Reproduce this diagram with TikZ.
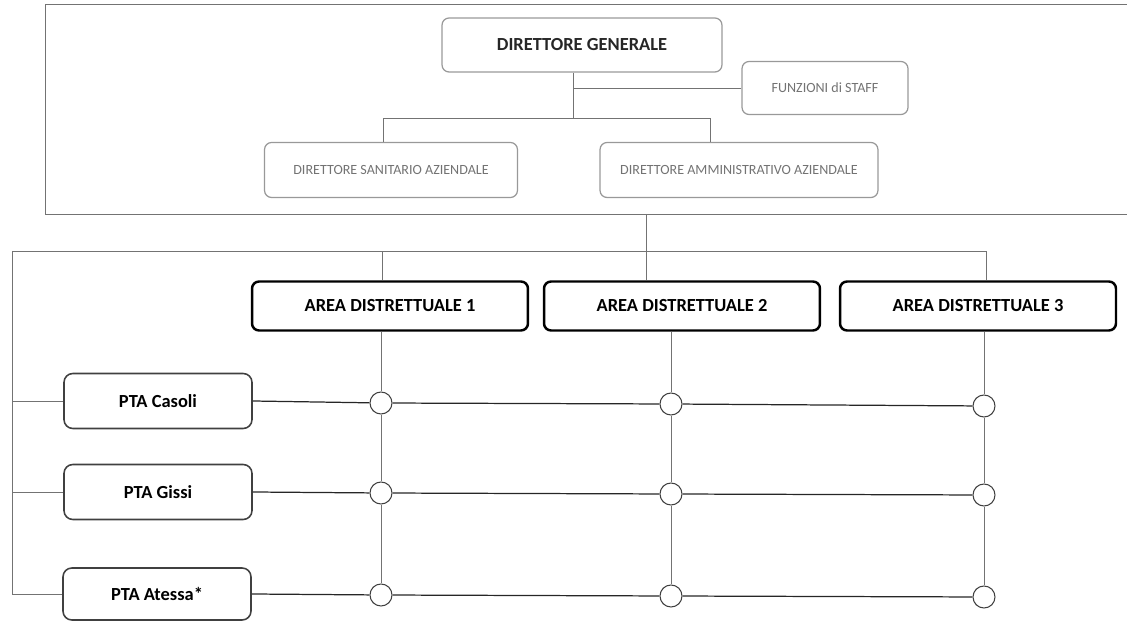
\documentclass[tikz,border=0pt]{standalone}
\usepackage{fontspec}
\setmainfont{Carlito}
\tikzset{
  topbox/.style={draw=black!40, line width=0.7pt, rounded corners=4pt, text=black!55, font=\fontsize{8}{9}\selectfont, align=center},
  headbox/.style={topbox, text=black!85, font=\bfseries\fontsize{10.5}{12}\selectfont},
  areabox/.style={draw=black, line width=1.4pt, rounded corners=4pt, font=\bfseries\fontsize{10.5}{12}\selectfont, minimum width=5.52cm, minimum height=0.98cm},
  ptabox/.style={draw=black!75, line width=0.9pt, rounded corners=5pt, font=\bfseries\fontsize{10.5}{12}\selectfont, minimum width=3.76cm, minimum height=1.1cm},
  knot/.style={circle, draw=black!75, line width=0.6pt, fill=white, minimum size=0.44cm, inner sep=0pt},
  greyline/.style={draw=black!55, line width=0.5pt},
  darkline/.style={draw=black!85, line width=0.7pt}
}

\begin{document}
\begin{tikzpicture}[x=0.02cm, y=-0.02cm]
\useasboundingbox (0,0) rectangle (1127,624);
\draw[greyline] (1127,4) -- (45,4) -- (45,214) -- (1127,214);
\node[headbox, minimum width=5.6cm, minimum height=1.08cm] (dg) at (582,45) {DIRETTORE GENERALE};
\node[topbox, minimum width=3.32cm, minimum height=1.06cm] (staff) at (825,88) {FUNZIONI di STAFF};
\node[topbox, minimum width=5.06cm, minimum height=1.1cm] (dsa) at (391,170) {DIRETTORE SANITARIO AZIENDALE};
\node[topbox, minimum width=5.56cm, minimum height=1.1cm] (daa) at (739,170) {DIRETTORE AMMINISTRATIVO AZIENDALE};
\coordinate (jdg) at (573,118);
\coordinate (jsa) at (383,118);
\coordinate (jaa) at (710,118);
\draw[greyline] (dg.south -| jdg) -- (jdg);
\draw[greyline] (staff.west) -- (staff.west -| jdg);
\draw[greyline] (dsa.north -| jsa) -- (jsa) -- (jaa) -- (daa.north -| jaa);

\node[areabox] (a1) at (390,306) {AREA DISTRETTUALE 1};
\node[areabox] (a2) at (682,306) {AREA DISTRETTUALE 2};
\node[areabox] (a3) at (978,306) {AREA DISTRETTUALE 3};
\coordinate (fb) at (646,214);
\coordinate (bl) at (12,251);
\coordinate (br) at (986,251);
\draw[greyline] (bl) -- (br) -- (a3.north -| br);
\draw[greyline] (fb) -- (a2.north -| fb);
\draw[greyline] (a1.north -| 382,0) -- (382,251);

\node[ptabox] (pta1) at (158,401) {PTA Casoli};
\node[ptabox] (pta2) at (158,492) {PTA Gissi};
\node[ptabox, minimum height=1.04cm] (pta3) at (157,594) {PTA Atessa*};
\draw[greyline] (bl) |- (pta3.west);
\draw[greyline] (pta1.west) -- (pta1.west -| bl);
\draw[greyline] (pta2.west) -- (pta2.west -| bl);

\node[knot] (c11) at (381,403) {};
\node[knot] (c12) at (671,404) {};
\node[knot] (c13) at (984,406) {};
\node[knot] (c21) at (381,493) {};
\node[knot] (c22) at (671,494) {};
\node[knot] (c23) at (984,495) {};
\node[knot] (c31) at (381,595) {};
\node[knot] (c32) at (671,596) {};
\node[knot] (c33) at (984,597) {};
\draw[greyline] (a1.south -| c11) -- (c11) -- (c21) -- (c31);
\draw[greyline] (a2.south -| c12) -- (c12) -- (c22) -- (c32);
\draw[greyline] (a3.south -| c13) -- (c13) -- (c23) -- (c33);
\draw[darkline] (pta1.east) -- (c11) -- (c12) -- (c13);
\draw[darkline] (pta2.east) -- (c21) -- (c22) -- (c23);
\draw[darkline] (pta3.east) -- (c31) -- (c32) -- (c33);
\end{tikzpicture}
\end{document}
